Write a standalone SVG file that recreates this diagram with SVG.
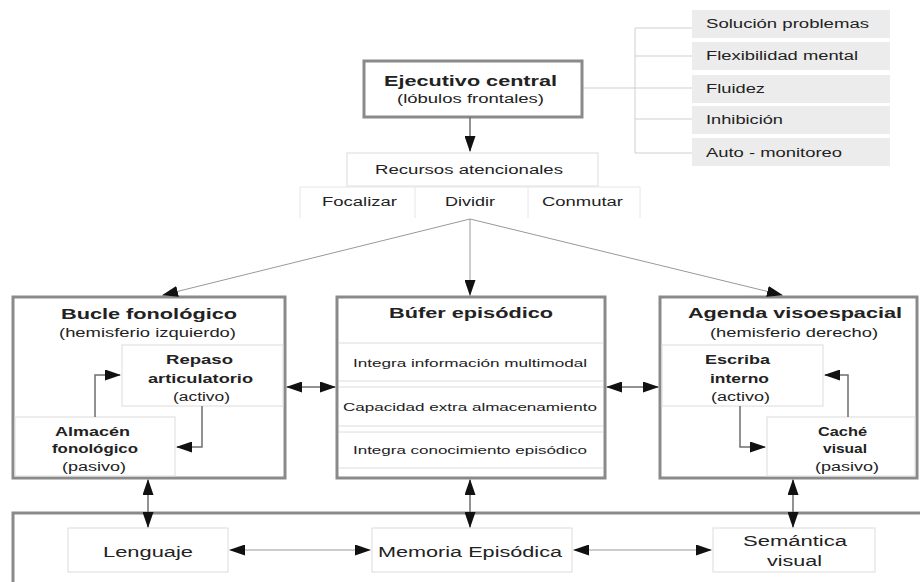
<svg xmlns="http://www.w3.org/2000/svg" width="920" height="582" viewBox="0 0 920 582">
<style>
text{font-family:"Liberation Sans",Arial,sans-serif;fill:#222;}
.t{font-size:14px;font-weight:bold;}
.s{font-size:12px;}
.b{font-size:12px;font-weight:bold;}
.c{font-size:11px;}
.l{font-size:14px;}
.main{fill:#fff;stroke:#8a8a8a;stroke-width:3;}
.inner{fill:#fff;stroke:#dcdcdc;stroke-width:1;}
.faint{fill:none;stroke:#e6e6e6;stroke-width:1;}
.item{fill:#ececec;stroke:none;}
.br{fill:none;stroke:#cfcfcf;stroke-width:1;}
.con{fill:none;stroke:#6e6e6e;stroke-width:1.5;}
.con2{fill:none;stroke:#999;stroke-width:1;}
</style>
<defs>
<marker id="ah" markerWidth="16" markerHeight="11" refX="15" refY="5.5" orient="auto-start-reverse" markerUnits="userSpaceOnUse"><path d="M0,0 L16,5.5 L0,11 z" fill="#111"/></marker>
</defs>
<rect width="920" height="582" fill="#fff"/>

<g id="funciones">
<rect class="item" x="692" y="10" width="198" height="28"/>
<rect class="item" x="692" y="42" width="198" height="28"/>
<rect class="item" x="692" y="75" width="198" height="28"/>
<rect class="item" x="692" y="106" width="198" height="28"/>
<rect class="item" x="692" y="138" width="198" height="28"/>
<path class="br" d="M635,28 V153 M635,28 H692 M635,56 H692 M583,88 H692 M635,119 H692 M635,153 H692"/>
<text class="s" x="706" y="28" textLength="163" lengthAdjust="spacingAndGlyphs">Solución problemas</text>
<text class="s" x="706" y="60" textLength="152" lengthAdjust="spacingAndGlyphs">Flexibilidad mental</text>
<text class="s" x="706" y="93" textLength="59" lengthAdjust="spacingAndGlyphs">Fluidez</text>
<text class="s" x="706" y="124" textLength="77" lengthAdjust="spacingAndGlyphs">Inhibición</text>
<text class="s" x="706" y="157" textLength="136" lengthAdjust="spacingAndGlyphs">Auto - monitoreo</text>
</g>

<g id="ejecutivo">
<rect class="main" x="364" y="61" width="218" height="56"/>
<text class="t" x="384" y="86" textLength="173" lengthAdjust="spacingAndGlyphs">Ejecutivo central</text>
<text class="s" x="397" y="103" textLength="147" lengthAdjust="spacingAndGlyphs">(lóbulos frontales)</text>
</g>

<g id="recursos">
<rect class="inner" x="347" y="153" width="251" height="33"/>
<text class="s" x="375" y="174" textLength="188" lengthAdjust="spacingAndGlyphs">Recursos atencionales</text>
<path class="faint" d="M300,187 H640 M300,187 V218 M415,187 V218 M528,187 V218 M640,187 V218"/>
<text class="s" x="322" y="206" textLength="75" lengthAdjust="spacingAndGlyphs">Focalizar</text>
<text class="s" x="445" y="206" textLength="50" lengthAdjust="spacingAndGlyphs">Dividir</text>
<text class="s" x="542" y="206" textLength="81" lengthAdjust="spacingAndGlyphs">Conmutar</text>
</g>

<g id="bucle">
<rect class="main" x="13" y="297" width="272" height="181"/>
<text class="t" x="61" y="319" textLength="176" lengthAdjust="spacingAndGlyphs">Bucle fonológico</text>
<text class="s" x="59" y="337" textLength="177" lengthAdjust="spacingAndGlyphs">(hemisferio izquierdo)</text>
<rect class="inner" x="122" y="345" width="161" height="61"/>
<text class="b" x="166" y="364" textLength="67" lengthAdjust="spacingAndGlyphs">Repaso</text>
<text class="b" x="148" y="383" textLength="105" lengthAdjust="spacingAndGlyphs">articulatorio</text>
<text class="s" x="173" y="401" textLength="57" lengthAdjust="spacingAndGlyphs">(activo)</text>
<rect class="inner" x="15" y="417" width="160" height="59"/>
<text class="b" x="55" y="436" textLength="75" lengthAdjust="spacingAndGlyphs">Almacén</text>
<text class="b" x="52" y="453" textLength="86" lengthAdjust="spacingAndGlyphs">fonológico</text>
<text class="s" x="62" y="471" textLength="64" lengthAdjust="spacingAndGlyphs">(pasivo)</text>
</g>

<g id="bufer">
<rect class="main" x="337" y="297" width="268" height="181"/>
<text class="t" x="389" y="318" textLength="164" lengthAdjust="spacingAndGlyphs">Búfer episódico</text>
<path class="inner" d="M339,343 H603 M339,381 H603 M339,387 H603 M339,426 H603 M339,432 H603 M339,468 H603"/>
<text class="c" x="353" y="367" textLength="234" lengthAdjust="spacingAndGlyphs">Integra información multimodal</text>
<text class="c" x="343" y="411" textLength="254" lengthAdjust="spacingAndGlyphs">Capacidad extra almacenamiento</text>
<text class="c" x="353" y="454" textLength="234" lengthAdjust="spacingAndGlyphs">Integra conocimiento episódico</text>
</g>

<g id="agenda">
<rect class="main" x="660" y="297" width="257" height="181"/>
<text class="t" x="688" y="318" textLength="214" lengthAdjust="spacingAndGlyphs">Agenda visoespacial</text>
<text class="s" x="710" y="337" textLength="168" lengthAdjust="spacingAndGlyphs">(hemisferio derecho)</text>
<rect class="inner" x="662" y="345" width="161" height="61"/>
<text class="b" x="705" y="364" textLength="65" lengthAdjust="spacingAndGlyphs">Escriba</text>
<text class="b" x="710" y="383" textLength="59" lengthAdjust="spacingAndGlyphs">interno</text>
<text class="s" x="711" y="401" textLength="59" lengthAdjust="spacingAndGlyphs">(activo)</text>
<rect class="inner" x="767" y="417" width="148" height="59"/>
<text class="b" x="818" y="436" textLength="49" lengthAdjust="spacingAndGlyphs">Caché</text>
<text class="b" x="823" y="453" textLength="44" lengthAdjust="spacingAndGlyphs">visual</text>
<text class="s" x="815" y="471" textLength="64" lengthAdjust="spacingAndGlyphs">(pasivo)</text>
</g>

<g id="ltm">
<rect class="main" x="13" y="513" width="930" height="100"/>
</g>

<g id="lenguaje">
<rect class="inner" x="68" y="528" width="160" height="44"/>
<text class="l" x="103" y="557" textLength="90" lengthAdjust="spacingAndGlyphs">Lenguaje</text>
</g>
<g id="memoria">
<rect class="inner" x="372" y="528" width="200" height="44"/>
<text class="l" x="378" y="557" textLength="184" lengthAdjust="spacingAndGlyphs">Memoria Episódica</text>
</g>
<g id="semantica">
<rect class="inner" x="713" y="528" width="162" height="44"/>
<text class="l" x="743" y="546" textLength="104" lengthAdjust="spacingAndGlyphs">Semántica</text>
<text class="l" x="767" y="566" textLength="55" lengthAdjust="spacingAndGlyphs">visual</text>
</g>

<g id="connectors">
<path class="con" d="M470,117 V151" marker-end="url(#ah)"/>
<path class="con2" d="M470,219 L163,295" marker-end="url(#ah)"/>
<path class="con2" d="M470,219 V295" marker-end="url(#ah)"/>
<path class="con2" d="M470,219 L782,295" marker-end="url(#ah)"/>
<path class="con" d="M95,417 V375 H120" marker-end="url(#ah)"/>
<path class="con" d="M202,406 V447 H177" marker-end="url(#ah)"/>
<path class="con" d="M848,417 V375 H825" marker-end="url(#ah)"/>
<path class="con" d="M740,406 V447 H765" marker-end="url(#ah)"/>
<path class="con" d="M287,387 H335" marker-start="url(#ah)" marker-end="url(#ah)"/>
<path class="con" d="M607,387 H658" marker-start="url(#ah)" marker-end="url(#ah)"/>
<path class="con" d="M148,480 V527" marker-start="url(#ah)" marker-end="url(#ah)"/>
<path class="con" d="M470,480 V527" marker-start="url(#ah)" marker-end="url(#ah)"/>
<path class="con" d="M793,480 V527" marker-start="url(#ah)" marker-end="url(#ah)"/>
<path class="con2" d="M230,550 H370" marker-start="url(#ah)" marker-end="url(#ah)"/>
<path class="con2" d="M574,550 H711" marker-start="url(#ah)" marker-end="url(#ah)"/>
</g>
</svg>
